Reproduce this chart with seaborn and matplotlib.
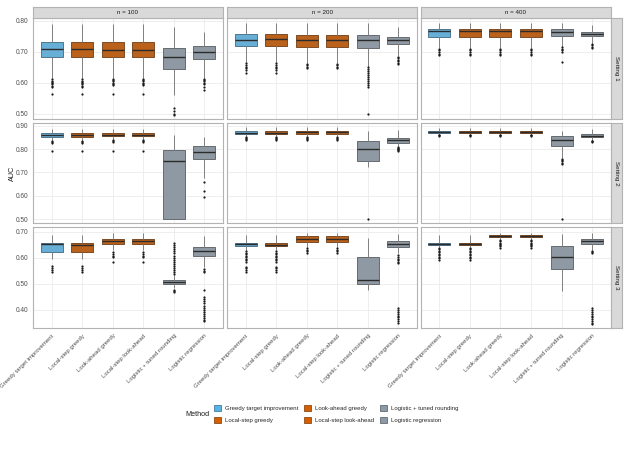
#############################
# AUC of the scoring methods: boxplots per setting (rows) and sample size (columns)
#############################
import numpy as np
import pandas as pd
import seaborn as sns
import matplotlib.pyplot as plt
from matplotlib.patches import Patch
from matplotlib.ticker import FormatStrFormatter

methods = ["Greedy target improvement", "Local-step greedy", "Look-ahead greedy",
           "Local-step look-ahead", "Logistic + tuned rounding", "Logistic regression"]
palette = ["#56B4E9", "#D55E00", "#D55E00", "#D55E00", "#8C99A6", "#8C99A6"]
n_labels = ["n = 100", "n = 200", "n = 400"]
settings = ["Setting 1", "Setting 2", "Setting 3"]
y_ticks = [[0.5, 0.6, 0.7, 0.8], [0.5, 0.6, 0.7, 0.8, 0.9], [0.4, 0.5, 0.6, 0.7]]
y_limits = [(0.4835, 0.8077), (0.4816, 0.9103), (0.328, 0.718)]

# box summaries: (lower whisker, q1, median, q3, upper whisker)
s1_n100_box = [(0.614, 0.682, 0.708, 0.730, 0.788), (0.614, 0.682, 0.708, 0.730, 0.788),
               (0.615, 0.682, 0.705, 0.730, 0.788), (0.615, 0.682, 0.705, 0.730, 0.788),
               (0.560, 0.643, 0.682, 0.713, 0.781), (0.616, 0.675, 0.700, 0.718, 0.763)]
s1_n100_out = [[0.611, 0.607, 0.603, 0.599, 0.595, 0.590, 0.586, 0.565],
               [0.611, 0.607, 0.603, 0.599, 0.595, 0.590, 0.586, 0.565],
               [0.612, 0.608, 0.604, 0.600, 0.596, 0.592, 0.565],
               [0.612, 0.608, 0.604, 0.600, 0.596, 0.592, 0.565],
               [0.519, 0.509, 0.500, 0.497],
               [0.612, 0.608, 0.604, 0.600, 0.596, 0.585, 0.578]]
s1_n200_box = [(0.668, 0.717, 0.739, 0.756, 0.792), (0.668, 0.717, 0.741, 0.756, 0.792),
               (0.662, 0.716, 0.738, 0.755, 0.792), (0.662, 0.716, 0.738, 0.755, 0.792),
               (0.652, 0.713, 0.737, 0.753, 0.792), (0.686, 0.724, 0.737, 0.746, 0.779)]
s1_n200_out = [[0.664, 0.658, 0.652, 0.646, 0.640, 0.632],
               [0.664, 0.658, 0.652, 0.646, 0.640, 0.632],
               [0.660, 0.656, 0.652, 0.648],
               [0.660, 0.656, 0.652, 0.648],
               [0.650, 0.644, 0.638, 0.632, 0.626, 0.618, 0.612, 0.605, 0.598, 0.592, 0.585, 0.499],
               [0.684, 0.679, 0.674, 0.669, 0.664, 0.659]]
s1_n400_box = [(0.711, 0.748, 0.766, 0.774, 0.794), (0.711, 0.748, 0.766, 0.774, 0.794),
               (0.711, 0.748, 0.766, 0.774, 0.794), (0.711, 0.748, 0.766, 0.774, 0.794),
               (0.716, 0.751, 0.765, 0.774, 0.794), (0.727, 0.750, 0.757, 0.762, 0.787)]
s1_n400_out = [[0.709, 0.704, 0.699, 0.694, 0.689],
               [0.709, 0.704, 0.699, 0.694, 0.689],
               [0.709, 0.704, 0.699, 0.694, 0.689],
               [0.709, 0.704, 0.699, 0.694, 0.689],
               [0.714, 0.709, 0.704, 0.700, 0.667],
               [0.725, 0.720, 0.715, 0.711]]

s2_n100_box = [(0.839, 0.853, 0.860, 0.867, 0.886), (0.839, 0.853, 0.860, 0.867, 0.886),
               (0.841, 0.855, 0.862, 0.869, 0.888), (0.841, 0.855, 0.862, 0.869, 0.888),
               (0.498, 0.498, 0.750, 0.796, 0.860), (0.674, 0.756, 0.786, 0.813, 0.850)]
s2_n100_out = [[0.836, 0.832, 0.827, 0.793],
               [0.836, 0.832, 0.827, 0.793],
               [0.838, 0.833, 0.828, 0.793],
               [0.838, 0.833, 0.828, 0.793],
               [],
               [0.660, 0.621, 0.595]]
s2_n200_box = [(0.856, 0.863, 0.870, 0.876, 0.893), (0.856, 0.863, 0.870, 0.876, 0.893),
               (0.856, 0.864, 0.871, 0.877, 0.893), (0.856, 0.864, 0.871, 0.877, 0.893),
               (0.724, 0.747, 0.799, 0.833, 0.879), (0.813, 0.827, 0.837, 0.847, 0.882)]
s2_n200_out = [[0.853, 0.848, 0.843, 0.838],
               [0.853, 0.848, 0.843, 0.838],
               [0.853, 0.848, 0.843, 0.838],
               [0.853, 0.848, 0.843, 0.838],
               [0.500],
               [0.810, 0.806, 0.802, 0.798, 0.794, 0.790]]
s2_n400_box = [(0.864, 0.870, 0.874, 0.879, 0.889), (0.864, 0.870, 0.874, 0.879, 0.889),
               (0.864, 0.870, 0.875, 0.879, 0.890), (0.864, 0.870, 0.875, 0.879, 0.890),
               (0.760, 0.814, 0.839, 0.856, 0.879), (0.839, 0.850, 0.857, 0.863, 0.884)]
s2_n400_out = [[0.862, 0.859, 0.857],
               [0.862, 0.859, 0.857],
               [0.862, 0.859, 0.857],
               [0.862, 0.859, 0.857],
               [0.757, 0.752, 0.747, 0.742, 0.737, 0.500],
               [0.836, 0.833, 0.830]]

s3_n100_box = [(0.594, 0.624, 0.652, 0.656, 0.688), (0.594, 0.624, 0.650, 0.656, 0.688),
               (0.630, 0.653, 0.664, 0.672, 0.695), (0.630, 0.653, 0.664, 0.672, 0.695),
               (0.483, 0.499, 0.506, 0.513, 0.533), (0.566, 0.609, 0.625, 0.641, 0.685)]
s3_n100_out = [[0.569, 0.562, 0.555, 0.547],
               [0.569, 0.562, 0.555, 0.547],
               [0.623, 0.616, 0.609, 0.602, 0.584],
               [0.623, 0.616, 0.609, 0.602, 0.584],
               [0.537, 0.545, 0.553, 0.561, 0.569, 0.577, 0.585, 0.593, 0.601, 0.609,
                0.617, 0.625, 0.633, 0.641, 0.649, 0.657, 0.476, 0.472, 0.468],
               [0.556, 0.550, 0.545, 0.476, 0.448, 0.440, 0.432, 0.424, 0.416, 0.408,
                0.400, 0.392, 0.384, 0.376, 0.368, 0.360, 0.355]]
s3_n200_box = [(0.630, 0.646, 0.652, 0.656, 0.688), (0.630, 0.646, 0.650, 0.656, 0.688),
               (0.643, 0.660, 0.672, 0.685, 0.697), (0.643, 0.660, 0.672, 0.685, 0.697),
               (0.476, 0.499, 0.513, 0.602, 0.676), (0.618, 0.641, 0.652, 0.664, 0.691)]
s3_n200_out = [[0.626, 0.620, 0.614, 0.608, 0.602, 0.596, 0.590, 0.585, 0.566, 0.560, 0.553, 0.547],
               [0.626, 0.620, 0.614, 0.608, 0.602, 0.596, 0.590, 0.585, 0.566, 0.560, 0.553, 0.547],
               [0.638, 0.632, 0.626, 0.620],
               [0.638, 0.632, 0.626, 0.620],
               [],
               [0.611, 0.604, 0.597, 0.590, 0.584, 0.579, 0.405, 0.398, 0.391, 0.384,
                0.377, 0.370, 0.363, 0.356, 0.349]]
s3_n400_box = [(0.643, 0.649, 0.652, 0.656, 0.688), (0.643, 0.649, 0.652, 0.656, 0.688),
               (0.672, 0.680, 0.684, 0.688, 0.697), (0.672, 0.680, 0.684, 0.688, 0.697),
               (0.473, 0.558, 0.605, 0.647, 0.692), (0.630, 0.654, 0.664, 0.672, 0.697)]
s3_n400_out = [[0.640, 0.634, 0.628, 0.622, 0.616, 0.610, 0.604, 0.598, 0.592],
               [0.640, 0.634, 0.628, 0.622, 0.616, 0.610, 0.604, 0.598, 0.592],
               [0.669, 0.664, 0.659, 0.654, 0.649, 0.644, 0.640],
               [0.669, 0.664, 0.659, 0.654, 0.649, 0.644, 0.640],
               [],
               [0.627, 0.622, 0.617, 0.405, 0.398, 0.391, 0.384, 0.377, 0.370, 0.363,
                0.356, 0.349, 0.345]]

panels = [[(s1_n100_box, s1_n100_out), (s1_n200_box, s1_n200_out), (s1_n400_box, s1_n400_out)],
          [(s2_n100_box, s2_n100_out), (s2_n200_box, s2_n200_out), (s2_n400_box, s2_n400_out)],
          [(s3_n100_box, s3_n100_out), (s3_n200_box, s3_n200_out), (s3_n400_box, s3_n400_out)]]

W, H = 629, 463
col_px = [(33.3, 222.7), (227.3, 416.7), (420.7, 610.7)]
row_px = [(18.3, 118.8), (123.3, 223.3), (227.3, 328.3)]


def edge_of(color):
    c = np.array(sns.color_palette([color])[0])
    return tuple(0.55 * c + 0.45 * np.array([0.2, 0.2, 0.2]))


def fig_axes(fig, x0, x1, y0, y1):
    return fig.add_axes([x0 / W, 1 - y1 / H, (x1 - x0) / W, (y1 - y0) / H])


def draw_panel(ax, boxes, outliers):
    box_df = pd.DataFrame({"Method": np.repeat(methods, 5),
                           "AUC": np.concatenate([np.array(b) for b in boxes])})
    sns.boxplot(data=box_df, x="Method", y="AUC", hue="Method", order=methods,
                hue_order=methods, palette=palette, whis=(0, 100), width=0.72,
                linewidth=0.7, showfliers=False, legend=False,
                medianprops=dict(color="#2b2b2b", linewidth=1.0),
                whiskerprops=dict(color="#808080", linewidth=0.7),
                capprops=dict(linewidth=0), ax=ax)
    for patch in ax.patches:
        fc = patch.get_facecolor()
        patch.set_edgecolor(edge_of(fc[:3]))
    out_df = pd.DataFrame({"Method": [m for m, pts in zip(methods, outliers) for _ in pts],
                           "AUC": [v for pts in outliers for v in pts]})
    sns.stripplot(data=out_df, x="Method", y="AUC", order=methods, color="#1a1a1a",
                  size=1.6, jitter=False, linewidth=0, ax=ax)


sns.set_style("white")
plt.rcParams["font.family"] = ["Liberation Sans", "DejaVu Sans"]

fig = plt.figure(figsize=(W / 100, H / 100), dpi=100)

for r in range(3):
    for c in range(3):
        ax = fig_axes(fig, col_px[c][0], col_px[c][1], row_px[r][0], row_px[r][1])
        boxes, outliers = panels[r][c]
        draw_panel(ax, boxes, outliers)
        ax.set_xlim(-0.6, 5.6)
        ax.set_ylim(*y_limits[r])
        ax.set_yticks(y_ticks[r])
        ax.yaxis.set_major_formatter(FormatStrFormatter("%.2f"))
        ax.set_xticks(range(len(methods)))
        ax.grid(True, color="#EBEBEB", linewidth=0.6)
        ax.set_axisbelow(True)
        ax.set_xlabel("")
        ax.set_ylabel("")
        for s in ax.spines.values():
            s.set_visible(True)
            s.set_color("#B3B3B3")
            s.set_linewidth(0.8)
        ax.tick_params(axis="both", length=2, width=0.5, color="#B3B3B3",
                       labelsize=4.7, labelcolor="#4D4D4D", pad=1.5)
        if c > 0:
            ax.tick_params(axis="y", labelleft=False, length=0)
        if r < 2:
            ax.tick_params(axis="x", labelbottom=False, length=0)
        else:
            ax.set_xticklabels(methods, rotation=45, ha="right", va="top",
                               rotation_mode="anchor", fontsize=4.3)

# facet strips
for c in range(3):
    sax = fig_axes(fig, col_px[c][0], col_px[c][1], 6.7, row_px[0][0])
    sax.set_facecolor("#D9D9D9")
    sax.set_xticks([])
    sax.set_yticks([])
    for s in sax.spines.values():
        s.set_color("#B3B3B3")
        s.set_linewidth(0.8)
    sax.text(0.5, 0.5, n_labels[c], ha="center", va="center", fontsize=4.5,
             color="#1A1A1A", transform=sax.transAxes)
for r in range(3):
    sax = fig_axes(fig, col_px[2][1], 622.3, row_px[r][0], row_px[r][1])
    sax.set_facecolor("#D9D9D9")
    sax.set_xticks([])
    sax.set_yticks([])
    for s in sax.spines.values():
        s.set_color("#B3B3B3")
        s.set_linewidth(0.8)
    sax.text(0.5, 0.5, settings[r], ha="center", va="center", fontsize=4.5,
             rotation=-90, color="#1A1A1A", transform=sax.transAxes)

fig.text(12 / W, 1 - 173 / H, "AUC", rotation=90, ha="center", va="center",
         fontsize=5.2, color="#1A1A1A")

# legend
handles = [Patch(facecolor=col, edgecolor=edge_of(col), linewidth=0.6, label=m)
           for m, col in zip(methods, palette)]
fig.text(185 / W, 1 - 414 / H, "Method", ha="left", va="center", fontsize=5.2,
         color="#1A1A1A")
fig.legend(handles=handles, loc="center left", bbox_to_anchor=(214 / W, 1 - 414 / H),
           ncol=3, frameon=False, fontsize=4.3, handlelength=1.1, handleheight=1.2,
           handletextpad=0.8, columnspacing=0.9, labelspacing=1.05,
           borderpad=0, borderaxespad=0)

fig.savefig("out.png", dpi=100)
